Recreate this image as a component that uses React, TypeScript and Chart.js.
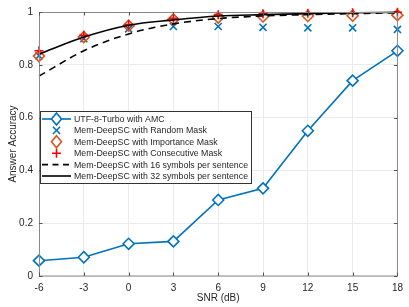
import React, { useEffect, useRef } from "react";
import { Chart, registerables } from "chart.js";

Chart.register(...registerables);

const snr = [-6, -3, 0, 3, 6, 9, 12, 15, 18];
const utf8Turbo = [0.058, 0.071, 0.122, 0.131, 0.288, 0.332, 0.55, 0.74, 0.853];
const randomMask = [0.834, 0.899, 0.936, 0.945, 0.945, 0.942, 0.94, 0.94, 0.934];
const importanceMask = [0.833, 0.905, 0.948, 0.972, 0.979, 0.983, 0.985, 0.986, 0.988];
const consecutiveMask = [0.853, 0.912, 0.952, 0.976, 0.99, 0.993, 0.995, 0.997, 0.999];
const sym16 = [0.757, 0.853, 0.917, 0.955, 0.975, 0.985, 0.99, 0.994, 0.997];
const sym32 = [0.84, 0.905, 0.95, 0.97, 0.985, 0.99, 0.994, 0.997, 0.999];
const yTicks = [0, 0.2, 0.4, 0.6, 0.8, 1];
const xTicks = [-6, -3, 0, 3, 6, 9, 12, 15, 18];
const legendLabels = [
  "UTF-8-Turbo with AMC",
  "Mem-DeepSC with Random Mask",
  "Mem-DeepSC with Importance Mask",
  "Mem-DeepSC with Consecutive Mask",
  "Mem-DeepSC with 16 symbols per sentence",
  "Mem-DeepSC with 32 symbols per sentence",
];

const BLUE = "#0072BD";
const ORANGE = "#D95319";
const RED = "#FF0000";
const FONT = "Liberation Sans, Arial, sans-serif";
const TXT = "#262626";

const pts = (ys: number[]) => snr.map((x, i) => ({ x, y: ys[i] }));

function drawMarker(ctx: CanvasRenderingContext2D, kind: string, x: number, y: number, color: string) {
  ctx.save();
  ctx.strokeStyle = color;
  ctx.lineWidth = 1.6;
  ctx.beginPath();
  if (kind === "diamond") {
    ctx.moveTo(x, y - 6);
    ctx.lineTo(x + 5, y);
    ctx.lineTo(x, y + 6);
    ctx.lineTo(x - 5, y);
    ctx.closePath();
    ctx.fillStyle = "#fff";
    ctx.fill();
  } else if (kind === "x") {
    ctx.moveTo(x - 3.6, y - 3.6);
    ctx.lineTo(x + 3.6, y + 3.6);
    ctx.moveTo(x + 3.6, y - 3.6);
    ctx.lineTo(x - 3.6, y + 3.6);
  } else if (kind === "plus") {
    ctx.moveTo(x - 4.5, y);
    ctx.lineTo(x + 4.5, y);
    ctx.moveTo(x, y - 4.5);
    ctx.lineTo(x, y + 4.5);
  }
  ctx.stroke();
  ctx.restore();
}

const matlabPlugin = {
  id: "matlabBox",
  afterDraw(chart: any) {
    const { ctx, chartArea: a, scales } = chart;
    ctx.save();
    // box
    ctx.strokeStyle = "#8a8a8a";
    ctx.lineWidth = 1;
    ctx.strokeRect(a.left + 0.5, a.top + 0.5, a.right - a.left - 0.5, a.bottom - a.top - 0.5);
    // inward ticks
    ctx.strokeStyle = "#555";
    ctx.beginPath();
    const tl = 3.5;
    xTicks.forEach((v) => {
      const px = Math.round(scales.x.getPixelForValue(v)) + 0.5;
      ctx.moveTo(px, a.bottom);
      ctx.lineTo(px, a.bottom - tl);
      ctx.moveTo(px, a.top);
      ctx.lineTo(px, a.top + tl);
    });
    yTicks.forEach((v) => {
      const py = Math.round(scales.y.getPixelForValue(v)) + 0.5;
      ctx.moveTo(a.left, py);
      ctx.lineTo(a.left + tl, py);
      ctx.moveTo(a.right, py);
      ctx.lineTo(a.right - tl, py);
    });
    ctx.stroke();

    // legend
    const lx = 40.5, ly = 111.5, lw = 211, lh = 72;
    ctx.fillStyle = "#fff";
    ctx.fillRect(lx, ly, lw, lh);
    ctx.strokeStyle = "#333";
    ctx.lineWidth = 1;
    ctx.strokeRect(lx, ly, lw, lh);
    const rowH = 11.4;
    const x0 = 42, x1 = 71, xm = 56.5;
    ctx.font = `8.8px ${FONT}`;
    ctx.textBaseline = "middle";
    ctx.textAlign = "left";
    legendLabels.forEach((lab, i) => {
      const cy = 119 + i * rowH;
      if (i === 0) {
        ctx.strokeStyle = BLUE;
        ctx.lineWidth = 1.6;
        ctx.beginPath();
        ctx.moveTo(x0, cy);
        ctx.lineTo(x1, cy);
        ctx.stroke();
        drawMarker(ctx, "diamond", xm, cy, BLUE);
      } else if (i === 1) drawMarker(ctx, "x", xm, cy, BLUE);
      else if (i === 2) drawMarker(ctx, "diamond", xm, cy, ORANGE);
      else if (i === 3) drawMarker(ctx, "plus", xm, cy, RED);
      else {
        ctx.strokeStyle = "#000";
        ctx.lineWidth = 1.6;
        ctx.setLineDash(i === 4 ? [6, 4.5] : []);
        ctx.beginPath();
        ctx.moveTo(x0, cy);
        ctx.lineTo(x1, cy);
        ctx.stroke();
        ctx.setLineDash([]);
      }
      ctx.fillStyle = TXT;
      ctx.fillText(lab, 74, cy + 0.5);
    });
    ctx.restore();
  },
};

export default function App() {
  const ref = useRef<HTMLCanvasElement | null>(null);
  useEffect(() => {
    document.body.style.margin = "0";
    const canvas = ref.current!;
    const chart = new Chart(canvas, {
      type: "line",
      data: {
        datasets: [
          {
            label: legendLabels[0],
            data: pts(utf8Turbo),
            borderColor: BLUE,
            borderWidth: 1.6,
            pointStyle: "rectRot",
            pointRadius: 5.5,
            pointBorderWidth: 1.6,
            pointBackgroundColor: "#fff",
            pointBorderColor: BLUE,
            tension: 0,
            order: 6,
          },
          {
            label: legendLabels[1],
            data: pts(randomMask),
            showLine: false,
            pointStyle: "crossRot",
            pointRadius: 5,
            pointBorderWidth: 1.6,
            pointBorderColor: BLUE,
            borderColor: BLUE,
            order: 5,
          },
          {
            label: legendLabels[2],
            data: pts(importanceMask),
            showLine: false,
            pointStyle: "rectRot",
            pointRadius: 5.5,
            pointBorderWidth: 1.6,
            pointBorderColor: ORANGE,
            pointBackgroundColor: "rgba(0,0,0,0)",
            borderColor: ORANGE,
            order: 4,
          },
          {
            label: legendLabels[3],
            data: pts(consecutiveMask),
            showLine: false,
            pointStyle: "cross",
            pointRadius: 4.5,
            pointBorderWidth: 1.6,
            pointBorderColor: RED,
            borderColor: RED,
            order: 3,
          },
          {
            label: legendLabels[4],
            data: pts(sym16),
            borderColor: "#000",
            borderWidth: 1.6,
            borderDash: [7, 5],
            pointRadius: 0,
            cubicInterpolationMode: "monotone",
            order: 2,
          },
          {
            label: legendLabels[5],
            data: pts(sym32),
            borderColor: "#000",
            borderWidth: 1.6,
            pointRadius: 0,
            cubicInterpolationMode: "monotone",
            order: 1,
          },
        ],
      },
      options: {
        animation: false,
        responsive: false,
        clip: false as any,
        layout: { padding: { top: 6, right: 10, left: 0, bottom: 0 } },
        plugins: { legend: { display: false }, tooltip: { enabled: false } },
        scales: {
          x: {
            type: "linear",
            min: -6,
            max: 18,
            afterBuildTicks: (s: any) => {
              s.ticks = xTicks.map((v) => ({ value: v }));
            },
            afterFit: (s: any) => {
              s.height = 31;
            },
            grid: { color: "#ebebeb", drawTicks: false },
            border: { display: false },
            ticks: {
              color: TXT,
              font: { family: FONT, size: 10 },
              padding: 6,
              maxRotation: 0,
              autoSkip: false,
            },
            title: {
              display: true,
              text: "SNR (dB)",
              color: TXT,
              font: { family: FONT, size: 10 },
              padding: { top: 0, bottom: 3 },
            },
          },
          y: {
            type: "linear",
            min: 0,
            max: 1,
            afterBuildTicks: (s: any) => {
              s.ticks = yTicks.map((v) => ({ value: v }));
            },
            afterFit: (s: any) => {
              s.width = 39;
            },
            grid: { color: "#ebebeb", drawTicks: false },
            border: { display: false },
            ticks: {
              color: TXT,
              font: { family: FONT, size: 10 },
              padding: 6,
              callback: (v: any) => String(Number(v)),
            },
            title: {
              display: true,
              text: "Answer Accuracy",
              color: TXT,
              font: { family: FONT, size: 10 },
              padding: { top: 7, bottom: 0 },
            },
          },
        },
      },
      plugins: [matlabPlugin],
    });
    return () => chart.destroy();
  }, []);
  return (
    <div style={{ width: 409, height: 307 }}>
      <canvas ref={ref} width={409} height={307} />
    </div>
  );
}
